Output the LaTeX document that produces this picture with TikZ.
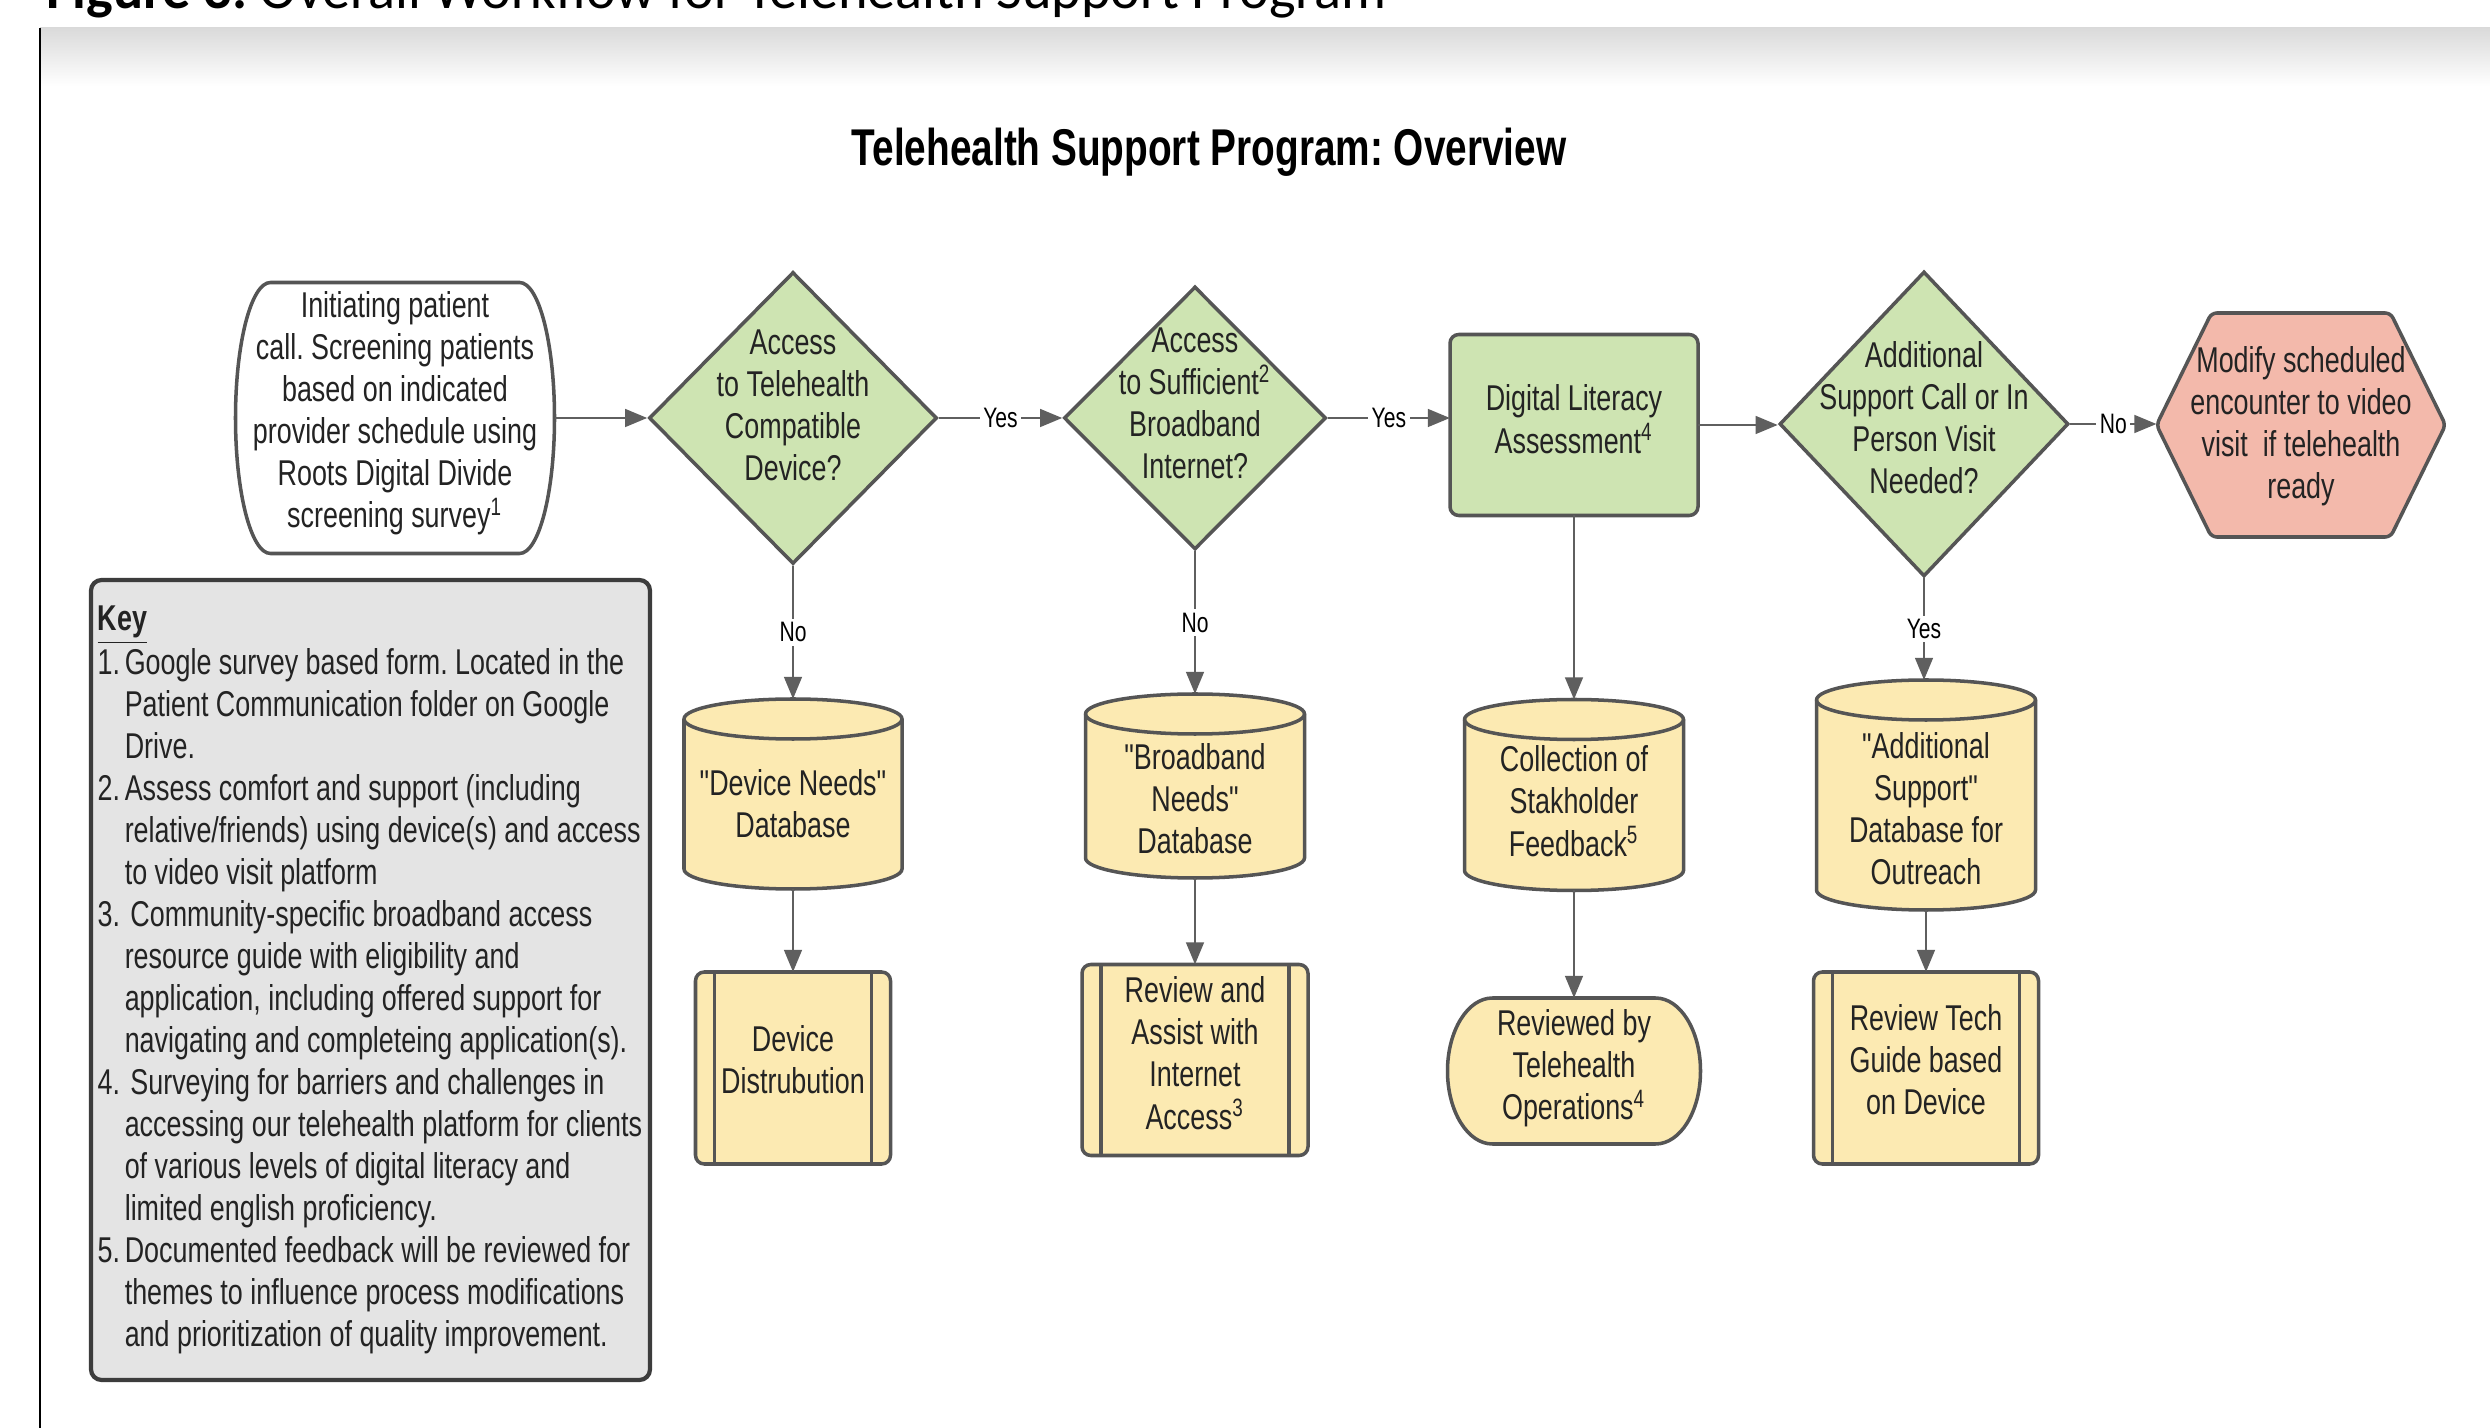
\documentclass[tikz,border=0pt]{standalone}
\usepackage{fontspec}
\usetikzlibrary{shapes.geometric,arrows.meta}
\newfontfamily\lsans[FakeStretch=0.75]{Liberation Sans}
\newfontfamily\capfont{Carlito}
\frenchspacing
\definecolor{grn}{RGB}{206,228,178}
\definecolor{yel}{RGB}{252,234,178}
\definecolor{sal}{RGB}{243,185,171}
\definecolor{keyg}{RGB}{228,228,228}
\definecolor{edge}{RGB}{85,85,85}
\definecolor{keyedge}{RGB}{60,60,60}
\definecolor{conn}{RGB}{95,95,95}
\definecolor{txt}{RGB}{35,35,35}
\definecolor{bandg}{RGB}{218,218,218}
\newcommand\nfont{\lsans\frenchspacing\fontsize{10.2}{11.95}\selectfont}
\newcommand\ctext[2][0pt]{\smash{\raisebox{#1}{\makebox[0pt]{\begin{tabular}{@{}c@{}}#2\end{tabular}}}}}
\tikzset{
  shapeline/.style={draw=edge, line width=1pt},
  box0/.style={inner sep=0pt, outer sep=0pt, font=\nfont, text=txt},
  dia/.style={shape=diamond, shapeline, fill=grn, inner sep=0pt, font=\nfont, text=txt},
  arr/.style={draw=conn, line width=0.8pt, -{Triangle[length=6.3pt,width=5pt]}},
  lbl/.style={fill=white, inner sep=1pt, font=\lsans\fontsize{8}{9.6}\selectfont, text=black},
}
% terminator: name, cx, cy, w, h, side bulge, fill, raise, text
\newcommand\mkterm[9]{%
  \path[shapeline, fill=#7, shift={(#2,-#3)}] (-#4/2+#6,#5/2) -- (#4/2-#6,#5/2)
     arc[start angle=90,end angle=-90,x radius=#6,y radius=#5/2] -- (-#4/2+#6,-#5/2)
     arc[start angle=270,end angle=90,x radius=#6,y radius=#5/2] -- cycle;
  \node[box0, minimum width=#4*0.01cm, minimum height=#5*0.01cm] (#1) at (#2,-#3) {\ctext[#8]{#9}};}
% hexagon: name, cx, cy, w, h, inset, raise, text
\newcommand\mkhex[8]{%
  \path[shapeline, fill=sal, rounded corners=1.5pt, shift={(#2,-#3)}] (-#4/2,0) -- (-#4/2+#6,#5/2) -- (#4/2-#6,#5/2)
     -- (#4/2,0) -- (#4/2-#6,-#5/2) -- (-#4/2+#6,-#5/2) -- cycle;
  \node[box0, minimum width=#4*0.01cm, minimum height=#5*0.01cm] (#1) at (#2,-#3) {\ctext[#7]{#8}};}
% cylinder: name, cx, cy, w, h, raise, text
\newcommand\mkcyl[7]{%
  \path[shapeline, fill=yel, shift={(#2,-#3)}] (-#4/2,#5/2-20) -- (-#4/2,-#5/2+20)
     arc[start angle=180,end angle=360,x radius=#4/2,y radius=20] -- (#4/2,#5/2-20)
     arc[start angle=0,end angle=180,x radius=#4/2,y radius=20] -- cycle;
  \draw[shapeline, shift={(#2,-#3)}] (-#4/2,#5/2-20) arc[start angle=180,end angle=360,x radius=#4/2,y radius=20];
  \node[box0, minimum width=#4*0.01cm, minimum height=#5*0.01cm] (#1) at (#2,-#3) {\ctext[#6]{#7}};}
% subprocess: name, cx, cy, w, h, raise, text
\newcommand\mksubp[7]{%
  \node[box0, shapeline, fill=yel, rounded corners=2.5pt, minimum width=#4*0.01cm, minimum height=#5*0.01cm] (#1) at (#2,-#3) {\ctext[#6]{#7}};
  \draw[shapeline] ([xshift=0.19cm]#1.north west) -- ([xshift=0.19cm]#1.south west);
  \draw[shapeline] ([xshift=-0.19cm]#1.north east) -- ([xshift=-0.19cm]#1.south east);}
\begin{document}
\begin{tikzpicture}[x=0.01cm,y=0.01cm]
\useasboundingbox (0,0) rectangle (2490,-1428);
\fill[white] (0,0) rectangle (2490,-1428);
% page band and frame
\shade[top color=bandg, bottom color=white] (40,-28) rectangle (2490,-86);
\draw[line width=0.7pt, black] (40,-28) -- (40,-1428);
\node[anchor=base west, inner sep=0pt, font=\capfont\fontsize{16}{19}\selectfont] (cap) at (46,-9) {\textbf{Figure 3.} Overall Workflow for Telehealth Support Program};
% title
\node[anchor=base, inner sep=0pt, font=\lsans\bfseries\fontsize{14.7}{18}\selectfont] (title) at (1209,-166) {Telehealth Support Program: Overview};
% top row
\mkterm{start}{395}{418}{319}{271}{35}{white}{-1.4pt}{Initiating patient\\call. Screening patients\\based on indicated\\provider schedule using\\Roots Digital Divide\\screening survey\textsuperscript{1}}
\node[dia, minimum width=288*0.01cm, minimum height=292*0.01cm] (d1) at (793,-418) {\ctext{Access\\to Telehealth\\Compatible\\Device?}};
\node[dia, minimum width=262*0.01cm, minimum height=263*0.01cm] (d2) at (1195,-418) {\ctext[0.6pt]{Access\\to Sufficient\textsuperscript{2}\\Broadband\\Internet?}};
\node[box0, shapeline, fill=grn, rounded corners=2.5pt, minimum width=248*0.01cm, minimum height=181*0.01cm] (dl) at (1574,-425) {\ctext[-2.1pt]{Digital Literacy\\Assessment\textsuperscript{4}}};
\node[dia, minimum width=289*0.01cm, minimum height=305*0.01cm] (d3) at (1924,-424) {\ctext[-1.9pt]{Additional\\Support Call or In\\Person Visit\\Needed?}};
\mkhex{hex}{2301}{425}{289}{224}{55}{-3.1pt}{Modify scheduled\\encounter to video\\visit\ \ if telehealth\\ready}
% databases
\mkcyl{c1}{793}{794}{218}{190}{-6.5pt}{"Device Needs"\\Database}
\mkcyl{c2}{1195}{786}{219}{184}{-7.4pt}{"Broadband\\Needs"\\Database}
\mkcyl{c3}{1574}{795}{219}{191}{-5.5pt}{Collection of\\Stakholder\\Feedback\textsuperscript{5}}
\mkcyl{c4}{1926}{795}{219}{230}{-7.7pt}{"Additional\\Support"\\Database for\\Outreach}
% bottom row
\mksubp{p1}{793}{1068}{195}{192}{-1.4pt}{Device\\Distrubution}
\mksubp{p2}{1195}{1060}{226}{191}{-1.7pt}{Review and\\Assist with\\Internet\\Access\textsuperscript{3}}
\mkterm{t2}{1574}{1071}{253}{146}{45}{yel}{-2pt}{Reviewed by\\Telehealth\\Operations\textsuperscript{4}}
\mksubp{p4}{1926}{1068}{225}{192}{-1.3pt}{Review Tech\\Guide based\\on Device}
% key
\node[draw=keyedge, line width=1.2pt, fill=keyg, rounded corners=3pt, minimum width=559*0.01cm, minimum height=800*0.01cm, inner sep=0pt] (key) at (370.5,-980) {};
\node[anchor=north west, inner sep=0pt, font=\nfont, text=txt] (keytext) at (97,-600) {\begin{tabular}{@{}l@{}}
\textbf{\underline{Key}}\\
\makebox[7.7pt][l]{1.}Google survey based form. Located in the\\
\hspace*{7.7pt}Patient Communication folder on Google\\
\hspace*{7.7pt}Drive.\\
\makebox[7.7pt][l]{2.}Assess comfort and support (including\\
\hspace*{7.7pt}relative/friends) using device(s) and access\\
\hspace*{7.7pt}to video visit platform\\
\makebox[7.7pt][l]{3.}\hspace{1.6pt}Community-specific broadband access\\
\hspace*{7.7pt}resource guide with eligibility and\\
\hspace*{7.7pt}application, including offered support for\\
\hspace*{7.7pt}navigating and completeing application(s).\\
\makebox[7.7pt][l]{4.}\hspace{1.6pt}Surveying for barriers and challenges in\\
\hspace*{7.7pt}accessing our telehealth platform for clients\\
\hspace*{7.7pt}of various levels of digital literacy and\\
\hspace*{7.7pt}limited english proficiency.\\
\makebox[7.7pt][l]{5.}Documented feedback will be reviewed for\\
\hspace*{7.7pt}themes to influence process modifications\\
\hspace*{7.7pt}and prioritization of quality improvement.
\end{tabular}};
% connectors
\draw[arr] (start.east) -- (d1.west);
\draw[arr] (d1.east) -- node[lbl]{Yes} (d2.west);
\draw[arr] (d2.east) -- node[lbl]{Yes} (d2.east -| dl.west);
\draw[arr] (dl.east) -- (dl.east -| d3.west);
\draw[arr] (d3.east) -- node[lbl]{No} (d3.east -| hex.west);
\draw[arr] (d1.south) -- node[lbl]{No} (c1.north);
\draw[arr] (c1.south) -- (p1.north);
\draw[arr] (d2.south) -- node[lbl]{No} (c2.north);
\draw[arr] (c2.south) -- (p2.north);
\draw[arr] (dl.south) -- (c3.north);
\draw[arr] (c3.south) -- (t2.north);
\draw[arr] (d3.south) -- node[lbl]{Yes} (d3.south |- c4.north);
\draw[arr] (c4.south) -- (p4.north);
\end{tikzpicture}
\end{document}
